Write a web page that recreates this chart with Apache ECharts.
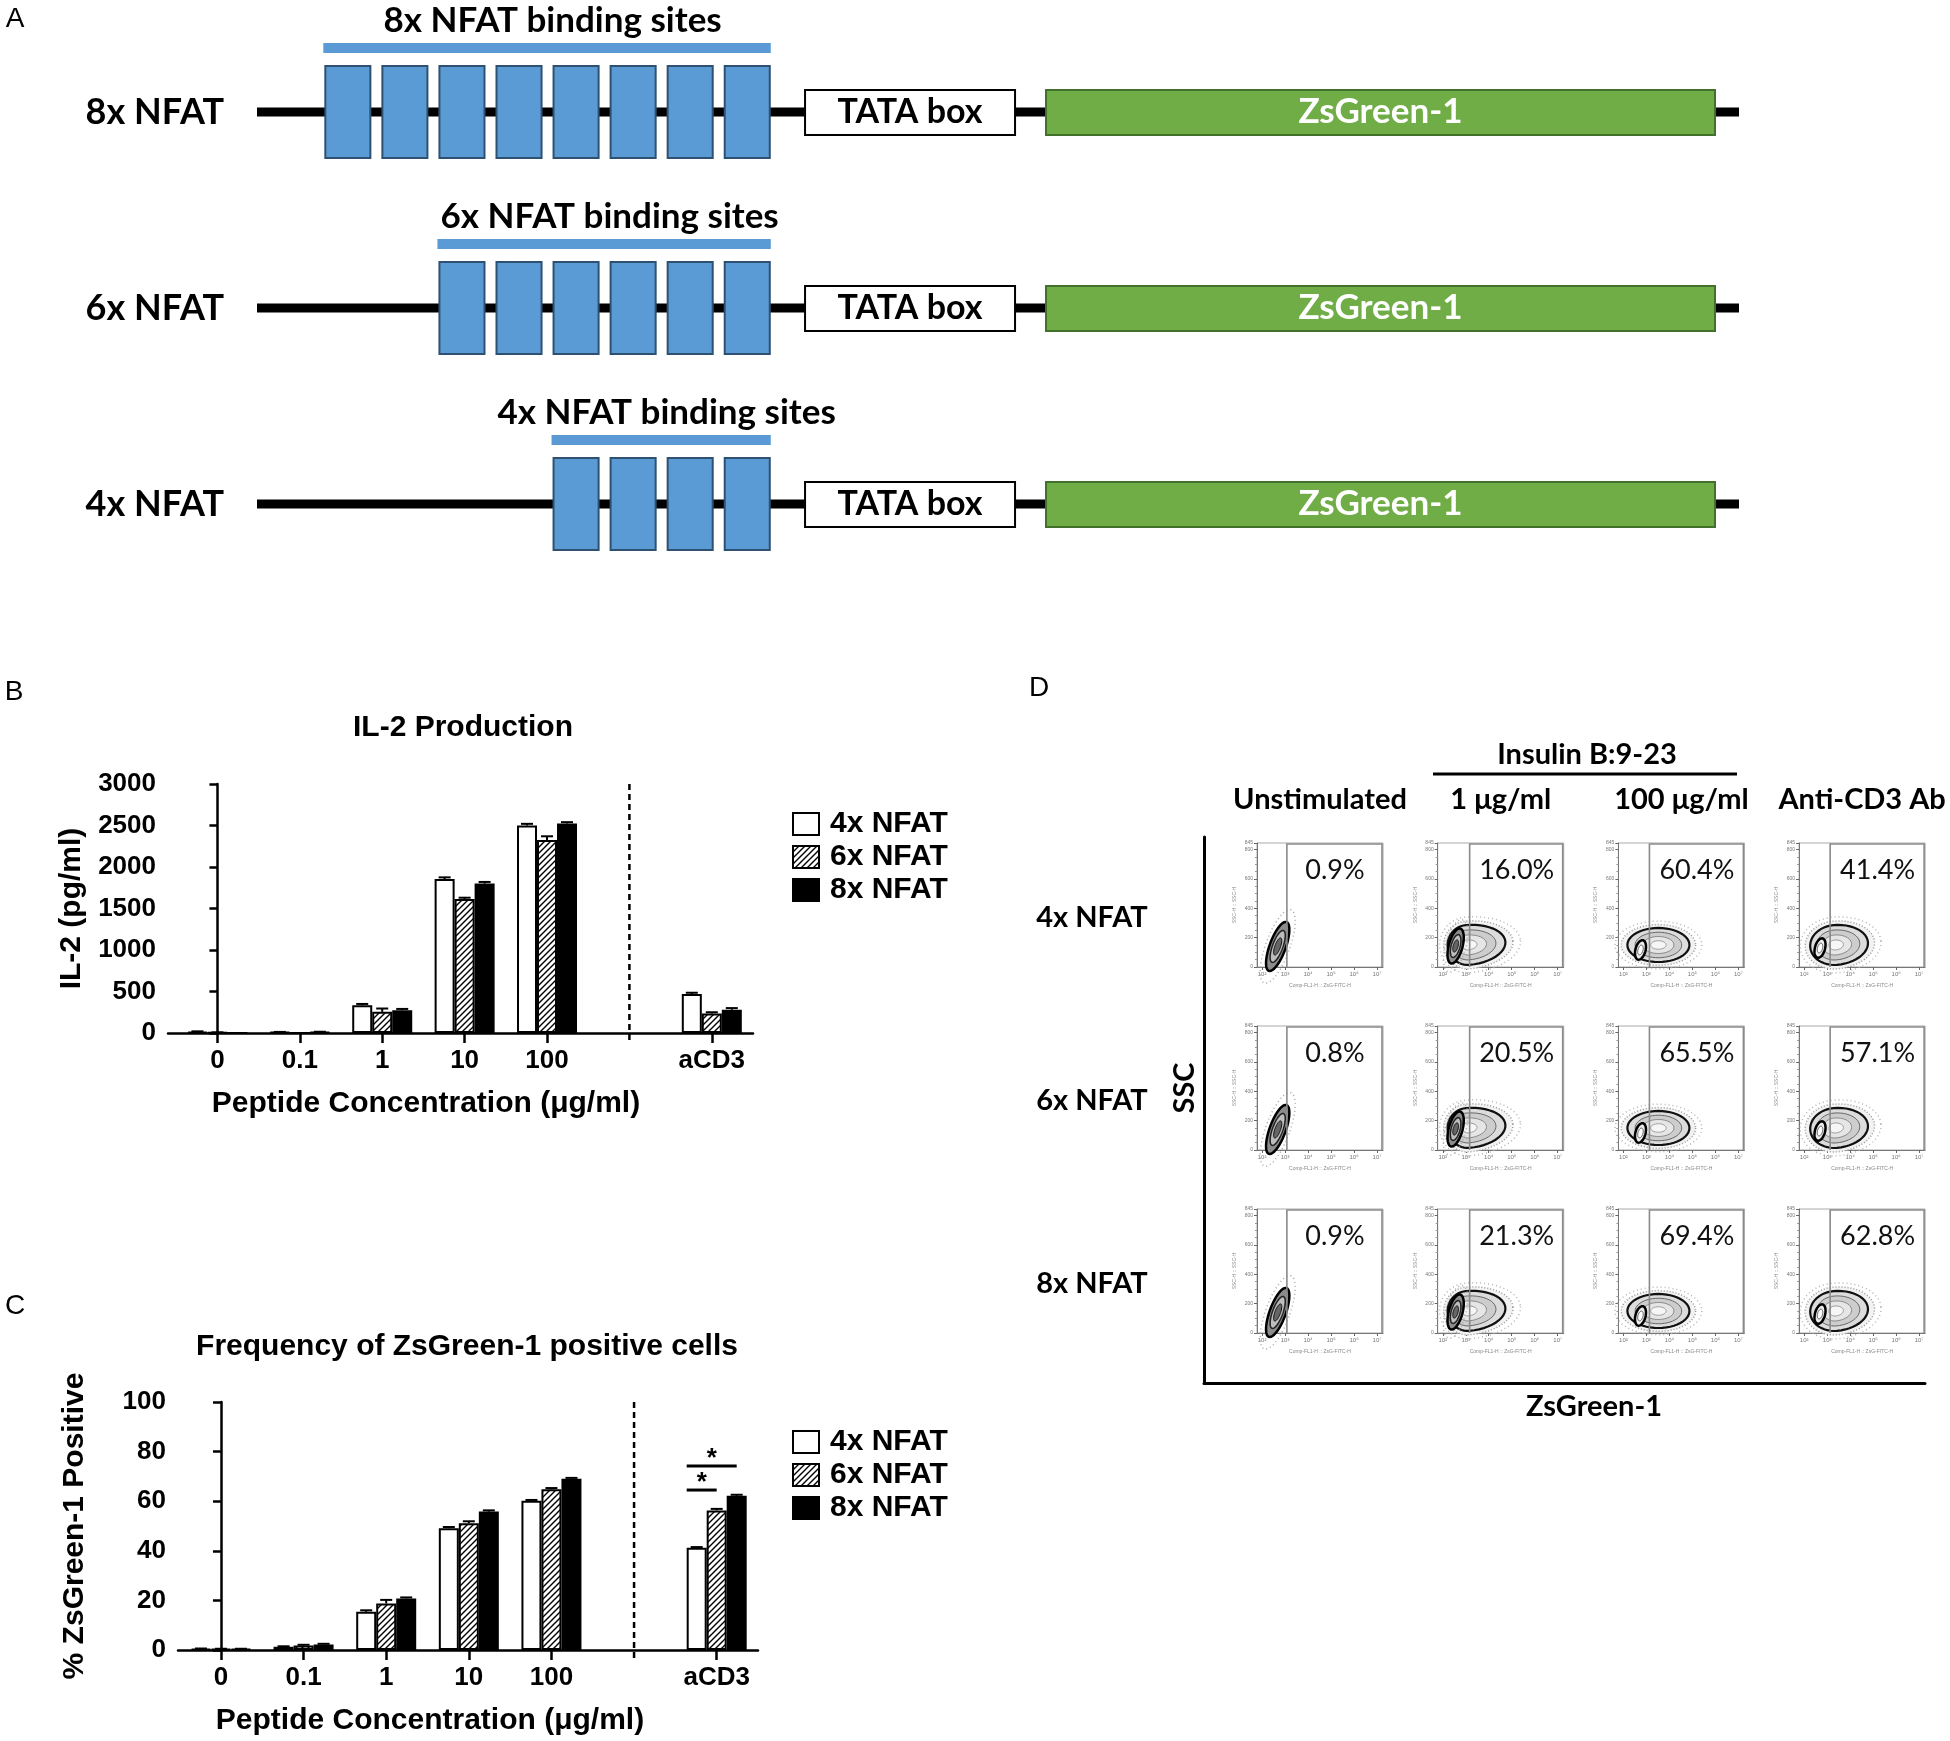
<!DOCTYPE html>
<html>
<head>
<meta charset="utf-8">
<script src="https://cdn.jsdelivr.net/npm/echarts@6/dist/echarts.min.js"></script>
<style>
  html, body { margin: 0; padding: 0; background: #fff; }
  #main { width: 1950px; height: 1741px; }
</style>
</head>
<body>
<div id="main"></div>
<script>
// ---------- data ----------
// panel A: reporter constructs
var constructNames = ['8x NFAT', '6x NFAT', '4x NFAT'];
var bindingSites = [8, 6, 4];

// panels B and C
var groupNames = ['4x NFAT', '6x NFAT', '8x NFAT'];
var concLabels = ['0', '0.1', '1', '10', '100', 'aCD3'];
var concPos = [0, 1, 2, 3, 4, 6];          // slot 5 holds the dashed divider

var il2_4x = [15, 10, 335, 1855, 2500, 470];
var il2_6x = [5, 0, 255, 1615, 2325, 235];
var il2_8x = [0, 10, 275, 1800, 2525, 280];
var il2Sd_4x = [5, 3, 15, 20, 20, 15];
var il2Sd_6x = [3, 0, 40, 15, 45, 15];
var il2Sd_8x = [0, 5, 15, 20, 15, 20];

var zs_4x = [0.5, 1.3, 15.4, 49.1, 60.2, 41.2];
var zs_6x = [0.4, 1.8, 18.8, 51.1, 64.8, 56.3];
var zs_8x = [0.4, 2.2, 20.8, 55.8, 69.1, 62.2];
var zsSd_4x = [0.1, 0.2, 0.6, 0.5, 0.3, 0.3];
var zsSd_6x = [0.1, 0.3, 1.4, 0.8, 0.5, 0.6];
var zsSd_8x = [0.1, 0.3, 0.4, 0.5, 0.3, 0.4];
// significance bars on aCD3: [x slot, height, compared group]
var sigBars = [[6, 74.2, 2], [6, 64.5, 1]];

// panel D: flow cytometry
var flowRows = ['4x NFAT', '6x NFAT', '8x NFAT'];
var flowCols = ['Unstimulated', '1 μg/ml', '100 μg/ml', 'Anti-CD3 Ab'];
var pct4x = [0.9, 16.0, 60.4, 41.4];
var pct6x = [0.8, 20.5, 65.5, 57.1];
var pct8x = [0.9, 21.3, 69.4, 62.8];
var gateLog = [3.08, 3.17, 3.13, 3.13];
// populations: [kind, log x, ssc, spread left (dec), spread right (dec), spread ssc, tilt]
var popUnstim = [['core', 2.68, 140, 0.35, 0.35, 177, 20]];
var pop1ug = [['blob', 3.08, 150, 0.87, 1.65, 136, -5], ['core', 2.56, 143, 0.3, 0.3, 123, 15]];
var pop100ug = [['blob', 3.52, 150, 1.35, 1.35, 116, 0], ['ring', 2.74, 116, 0.22, 0.22, 68, 15]];
var popCD3 = [['blob', 3.35, 150, 1.09, 1.43, 136, -5], ['ring', 2.69, 129, 0.22, 0.22, 68, 15]];

(function () {
  var ARIAL = '"Liberation Sans", Arial, sans-serif';
  var CAL = 'Lato, "Open Sans", sans-serif';
  var SUP = {2: '²', 3: '³', 4: '⁴', 5: '⁵', 6: '⁶', 7: '⁷'};

  function hatch() {
    var cv = document.createElement('canvas');
    cv.width = 6; cv.height = 6;
    var g = cv.getContext('2d');
    g.fillStyle = '#fff'; g.fillRect(0, 0, 6, 6);
    g.strokeStyle = '#000'; g.lineWidth = 1.4;
    g.beginPath();
    g.moveTo(0, 6); g.lineTo(6, 0);
    g.moveTo(-1, 1); g.lineTo(1, -1);
    g.moveTo(5, 7); g.lineTo(7, 5);
    g.stroke();
    return cv;
  }
  var groupFills = ['#fff', {image: hatch(), repeat: 'repeat'}, '#000'];
  var groupOffsets = [-20, 0, 20];

  var chart = echarts.init(document.getElementById('main'));
  var grids = [], xAxes = [], yAxes = [], series = [], graphics = [];

  // ---------- panel A ----------
  grids.push({left: 257, top: 14, width: 1482, height: 588});
  xAxes.push({gridIndex: 0, type: 'value', min: 0, max: 100, show: false});
  yAxes.push({
    gridIndex: 0, type: 'category', data: constructNames, inverse: true,
    axisLine: {show: false}, axisTick: {show: false},
    axisLabel: {margin: 33, color: '#000', fontFamily: CAL, fontWeight: 'bold', fontSize: 36}
  });
  series.push({
    type: 'custom', xAxisIndex: 0, yAxisIndex: 0, silent: true, clip: false,
    data: constructNames.map(function (n, i) { return [i, bindingSites[i]]; }),
    renderItem: function (params, api) {
      var row = api.value(0), n = api.value(1);
      var X = function (u) { return api.coord([u, row])[0]; };
      var cy = api.coord([0, row])[1];
      var kids = [];
      kids.push({type: 'rect', shape: {x: X(0), y: cy - 4.5, width: X(100) - X(0), height: 9}, style: {fill: '#000'}});
      var siteEnd = 34.6, pitch = 3.85, bw = 3.04;
      var firstLeft = siteEnd - (n - 1) * pitch - bw;
      for (var k = 0; k < n; k++) {
        var rr = siteEnd - (n - 1 - k) * pitch;
        kids.push({type: 'rect', shape: {x: X(rr - bw), y: cy - 46, width: X(rr) - X(rr - bw), height: 92},
          style: {fill: '#5b9bd5', stroke: '#2f5171', lineWidth: 2}});
      }
      kids.push({type: 'rect', shape: {x: X(firstLeft) - 2, y: cy - 69, width: X(siteEnd) - X(firstLeft) + 3, height: 10},
        style: {fill: '#5b9bd5'}});
      kids.push({type: 'text', x: (X(firstLeft) + X(siteEnd)) / 2 + 5, y: cy - 91,
        style: {text: n + 'x NFAT binding sites', font: 'bold 35px ' + CAL, fill: '#000', align: 'center', verticalAlign: 'middle'}});
      kids.push({type: 'rect', shape: {x: X(36.98), y: cy - 22, width: X(51.15) - X(36.98), height: 45},
        style: {fill: '#fff', stroke: '#000', lineWidth: 2}});
      kids.push({type: 'text', x: (X(36.98) + X(51.15)) / 2, y: cy,
        style: {text: 'TATA box', font: 'bold 34px ' + CAL, fill: '#000', align: 'center', verticalAlign: 'middle'}});
      kids.push({type: 'rect', shape: {x: X(53.24), y: cy - 22, width: X(98.38) - X(53.24), height: 45},
        style: {fill: '#70ad47', stroke: '#41712a', lineWidth: 2}});
      kids.push({type: 'text', x: (X(53.24) + X(98.38)) / 2, y: cy,
        style: {text: 'ZsGreen-1', font: 'bold 35px ' + CAL, fill: '#fff', align: 'center', verticalAlign: 'middle'}});
      return {type: 'group', children: kids};
    }
  });

  // ---------- panels B and C ----------
  function barPanel(gi, box, yMax, yStep, yName, yGap, namePad, vals, sds) {
    grids.push({left: box[0], top: box[1], width: box[2], height: box[3]});
    xAxes.push({
      gridIndex: gi, type: 'value', min: box[4], max: 6.5,
      axisLine: {onZero: false, lineStyle: {color: '#000', width: 2.5}},
      axisTick: {customValues: concPos, length: 10, lineStyle: {color: '#000', width: 2.5}},
      axisLabel: {customValues: concPos, margin: 15, formatter: function (v) { return concLabels[concPos.indexOf(v)]; },
        fontFamily: ARIAL, fontWeight: 'bold', fontSize: 26, color: '#000'},
      splitLine: {show: false},
      name: 'Peptide Concentration (μg/ml)', nameLocation: 'middle', nameGap: 56,
      nameTextStyle: {fontFamily: ARIAL, fontWeight: 'bold', fontSize: 30, color: '#000', padding: [0, namePad, 0, 0]}
    });
    yAxes.push({
      gridIndex: gi, type: 'value', min: 0, max: yMax, interval: yStep,
      axisLine: {show: true, lineStyle: {color: '#000', width: 2.5}},
      axisTick: {show: true, length: 8, lineStyle: {color: '#000', width: 2.5}},
      axisLabel: {margin: 12, formatter: function (v) { return String(v); },
        fontFamily: ARIAL, fontWeight: 'bold', fontSize: 26, color: '#000'},
      splitLine: {show: false},
      name: yName, nameLocation: 'middle', nameRotate: 90, nameGap: yGap,
      nameTextStyle: {fontFamily: ARIAL, fontWeight: 'bold', fontSize: 30, color: '#000'}
    });
    groupNames.forEach(function (g, k) {
      series.push({
        type: 'bar', name: g, xAxisIndex: gi, yAxisIndex: gi, barWidth: 20, barGap: '0%',
        data: concPos.map(function (p, i) { return [p, vals[k][i]]; }),
        itemStyle: {color: groupFills[k], borderColor: '#000', borderWidth: 2}, z: 3
      });
      series.push({
        type: 'custom', name: 'sd ' + g, xAxisIndex: gi, yAxisIndex: gi, z: 4, silent: true,
        data: concPos.map(function (p, i) { return [p, vals[k][i], sds[k][i]]; }),
        renderItem: function (params, api) {
          var b = api.coord([api.value(0), api.value(1)]);
          var t = api.coord([api.value(0), api.value(1) + api.value(2)]);
          var x = b[0] + groupOffsets[k];
          return {type: 'group', children: [
            {type: 'line', shape: {x1: x, y1: b[1], x2: x, y2: t[1]}, style: {stroke: '#000', lineWidth: 2}},
            {type: 'line', shape: {x1: x - 6, y1: t[1], x2: x + 6, y2: t[1]}, style: {stroke: '#000', lineWidth: 2}}
          ]};
        }
      });
    });
    series.push({
      type: 'custom', name: 'divider', xAxisIndex: gi, yAxisIndex: gi, silent: true, clip: false,
      data: [[5, yMax]],
      renderItem: function (params, api) {
        var pt = api.coord([api.value(0), api.value(1)]);
        var pb = api.coord([api.value(0), 0]);
        return {type: 'line', shape: {x1: pt[0], y1: pt[1], x2: pt[0], y2: pb[1] + 10},
          style: {stroke: '#000', lineWidth: 2.5, lineDash: [6, 4]}};
      }
    });
  }

  barPanel(1, [168, 784, 585, 249, -0.6], 3000, 500, 'IL-2 (pg/ml)', 81, 69,
    [il2_4x, il2_6x, il2_8x], [il2Sd_4x, il2Sd_6x, il2Sd_8x]);
  barPanel(2, [178, 1402, 580, 248, -0.52], 100, 20, '% ZsGreen-1 Positive', 88, 76,
    [zs_4x, zs_6x, zs_8x], [zsSd_4x, zsSd_6x, zsSd_8x]);

  series.push({
    type: 'custom', name: 'sig', xAxisIndex: 2, yAxisIndex: 2, silent: true, clip: false, z: 5,
    data: sigBars,
    renderItem: function (params, api) {
      var p = api.coord([api.value(0), api.value(1)]);
      var x0 = p[0] - 30, x1 = p[0] + groupOffsets[api.value(2)];
      return {type: 'group', children: [
        {type: 'line', shape: {x1: x0, y1: p[1], x2: x1, y2: p[1]}, style: {stroke: '#000', lineWidth: 3}},
        {type: 'text', x: (x0 + x1) / 2, y: p[1] + 6,
          style: {text: '*', font: 'bold 26px ' + ARIAL, fill: '#000', align: 'center', verticalAlign: 'bottom'}}
      ]};
    }
  });

  function legendAt(y) {
    return {
      data: groupNames, orient: 'vertical', left: 787, top: y, itemWidth: 26, itemHeight: 22, itemGap: 3,
      selectedMode: false, icon: 'rect',
      textStyle: {fontFamily: ARIAL, fontWeight: 'bold', fontSize: 30, color: '#000', lineHeight: 22, padding: [0, 0, 0, 6]}
    };
  }

  // ---------- panel D ----------
  var flowPct = [pct4x, pct6x, pct8x];
  var flowPops = [popUnstim, pop1ug, pop100ug, popCD3];
  var plotW = 126, plotH = 124, plotLeft0 = 1257, plotTop0 = 843, colStep = 180.7, rowStep = 183;

  var layers = {
    blob: [
      {s: 1.4, fill: 'none', stroke: '#b5b5b5', w: 1.5, dash: [1, 3]},
      {s: 1.2, fill: '#f2f2f2', stroke: '#9a9a9a', w: 1.5, dash: [1, 2]},
      {s: 1.0, fill: '#dcdcdc', stroke: '#111', w: 2.2},
      {s: 0.75, fill: '#cdcdcd', stroke: '#666', w: 1},
      {s: 0.5, fill: '#e6e6e6', stroke: '#888', w: 1},
      {s: 0.25, fill: '#f6f6f6', stroke: '#999', w: 1}
    ],
    core: [
      {s: 1.5, fill: 'none', stroke: '#aaa', w: 1.5, dash: [1, 3]},
      {s: 1.0, fill: '#8c8c8c', stroke: '#000', w: 2.5},
      {s: 0.65, fill: '#bdbdbd', stroke: '#222', w: 1.5},
      {s: 0.35, fill: '#666', stroke: '#111', w: 1}
    ],
    ring: [
      {s: 1.0, fill: '#ececec', stroke: '#000', w: 2.5},
      {s: 0.5, fill: '#fff', stroke: '#555', w: 1}
    ]
  };

  function shapePts(cx, cy, rl, rr, ry, tilt, s) {
    var a = tilt * Math.PI / 180, ca = Math.cos(a), sa = Math.sin(a), pts = [];
    for (var k = 0; k < 48; k++) {
      var t = k / 48 * 2 * Math.PI, cs = Math.cos(t);
      var x = (cs >= 0 ? rr : rl) * cs * s, y = ry * Math.sin(t) * s;
      pts.push([cx + x * ca - y * sa, cy + x * sa + y * ca]);
    }
    return pts;
  }

  function flowRender(params, api) {
    var gate = api.value(0), pct = api.value(1), col = api.value(2);
    var kids = [];
    flowPops[col].forEach(function (p) {
      var ctr = api.coord([p[1], p[2]]);
      var szL = api.size([p[3], p[5]]), szR = api.size([p[4], p[5]]);
      layers[p[0]].forEach(function (L) {
        var st = {fill: L.fill, stroke: L.stroke, lineWidth: L.w};
        if (L.dash) st.lineDash = L.dash;
        kids.push({type: 'polygon', shape: {points: shapePts(ctr[0], ctr[1], szL[0], szR[0], szL[1], p[6], L.s)}, style: st});
      });
    });
    var g0 = api.coord([gate, 0]), g1 = api.coord([7.26, 845]);
    kids.push({type: 'polyline', shape: {points: [[g0[0], g0[1]], [g0[0], g1[1] + 1], [g1[0] - 1, g1[1] + 1], [g1[0] - 1, g0[1]]]},
      style: {stroke: '#8a8a8a', lineWidth: 1.6, fill: 'none'}});
    var tp = api.coord([(gate + 7.26) / 2, 660]);
    kids.push({type: 'text', x: tp[0], y: tp[1],
      style: {text: pct.toFixed(1) + '%', font: '27px ' + CAL, fill: '#111', align: 'center', verticalAlign: 'middle'}});
    return {type: 'group', children: kids};
  }

  for (var ri = 0; ri < 3; ri++) {
    for (var ci = 0; ci < 4; ci++) {
      var gi = grids.length;
      grids.push({left: plotLeft0 + ci * colStep, top: plotTop0 + ri * rowStep, width: plotW, height: plotH,
        show: true, borderColor: '#aaa', borderWidth: 1});
      xAxes.push({
        gridIndex: gi, type: 'value', min: 1.78, max: 7.26,
        axisLine: {onZero: false, lineStyle: {color: '#777', width: 1}},
        axisTick: {customValues: [2, 3, 4, 5, 6, 7], length: 3, lineStyle: {color: '#666'}},
        axisLabel: {customValues: [2, 3, 4, 5, 6, 7], formatter: function (v) { return '10' + SUP[v]; },
          fontSize: 6, color: '#777', margin: 4},
        splitLine: {show: false},
        name: 'Comp-FL1-H :: ZsG-FITC-H', nameLocation: 'middle', nameGap: 16,
        nameTextStyle: {fontSize: 5, color: '#888'}
      });
      yAxes.push({
        gridIndex: gi, type: 'value', min: 0, max: 845, interval: 200,
        axisLine: {show: true, lineStyle: {color: '#777', width: 1}},
        axisTick: {show: true, length: 3, lineStyle: {color: '#666'}},
        minorTick: {show: true, splitNumber: 4, length: 2, lineStyle: {color: '#999'}},
        axisLabel: {fontSize: 5, color: '#777', margin: 4},
        splitLine: {show: false},
        name: 'SSC-H :: SSC-H', nameLocation: 'middle', nameGap: 20,
        nameTextStyle: {fontSize: 5, color: '#888'}
      });
      series.push({
        type: 'custom', name: 'flow', xAxisIndex: gi, yAxisIndex: gi, silent: true, clip: false,
        data: [[gateLog[ci], flowPct[ri][ci], ci]],
        renderItem: flowRender
      });
    }
  }

  // big SSC / ZsGreen-1 frame
  var bigIdx = grids.length;
  grids.push({left: 1204, top: 837, width: 721, height: 546});
  xAxes.push({gridIndex: bigIdx, type: 'value', min: 0, max: 1, axisLine: {lineStyle: {color: '#000', width: 3}},
    axisTick: {show: false}, axisLabel: {show: false}, splitLine: {show: false}});
  yAxes.push({gridIndex: bigIdx, type: 'value', min: 0, max: 1, axisLine: {show: true, lineStyle: {color: '#000', width: 3}},
    axisTick: {show: false}, axisLabel: {show: false}, splitLine: {show: false}});

  // ---------- texts ----------
  function txt(t, x, y, font, rot) {
    return {type: 'text', x: x, y: y, rotation: rot || 0, silent: true,
      style: {text: t, font: font, fill: '#000', align: 'center', verticalAlign: 'middle'}};
  }
  graphics.push(txt('A', 15, 19, '28px ' + ARIAL));
  graphics.push(txt('B', 14, 692, '28px ' + ARIAL));
  graphics.push(txt('C', 15, 1306, '28px ' + ARIAL));
  graphics.push(txt('D', 1039, 688, '28px ' + ARIAL));
  graphics.push(txt('IL-2 Production', 463, 728, 'bold 30px ' + ARIAL));
  graphics.push(txt('Frequency of ZsGreen-1 positive cells', 467, 1347, 'bold 30px ' + ARIAL));

  graphics.push(txt('Insulin B:9-23', 1587, 755, 'bold 29px ' + CAL));
  graphics.push({type: 'line', silent: true, shape: {x1: 1433, y1: 774, x2: 1737, y2: 774}, style: {stroke: '#000', lineWidth: 3}});
  flowCols.forEach(function (t, c) {
    graphics.push(txt(t, plotLeft0 + c * colStep + plotW / 2, 800, 'bold 29px ' + CAL));
  });
  flowRows.forEach(function (t, r) {
    graphics.push(txt(t, 1092, plotTop0 + r * rowStep + 75, 'bold 29px ' + CAL));
  });
  graphics.push(txt('SSC', 1185, 1088, 'bold 29px ' + CAL, Math.PI / 2));
  graphics.push(txt('ZsGreen-1', 1594, 1407, 'bold 29px ' + CAL));

  chart.setOption({
    animation: false,
    backgroundColor: '#fff',
    grid: grids,
    xAxis: xAxes,
    yAxis: yAxes,
    legend: [legendAt(804), legendAt(1422)],
    graphic: graphics,
    series: series
  });
})();
</script>
</body>
</html>
